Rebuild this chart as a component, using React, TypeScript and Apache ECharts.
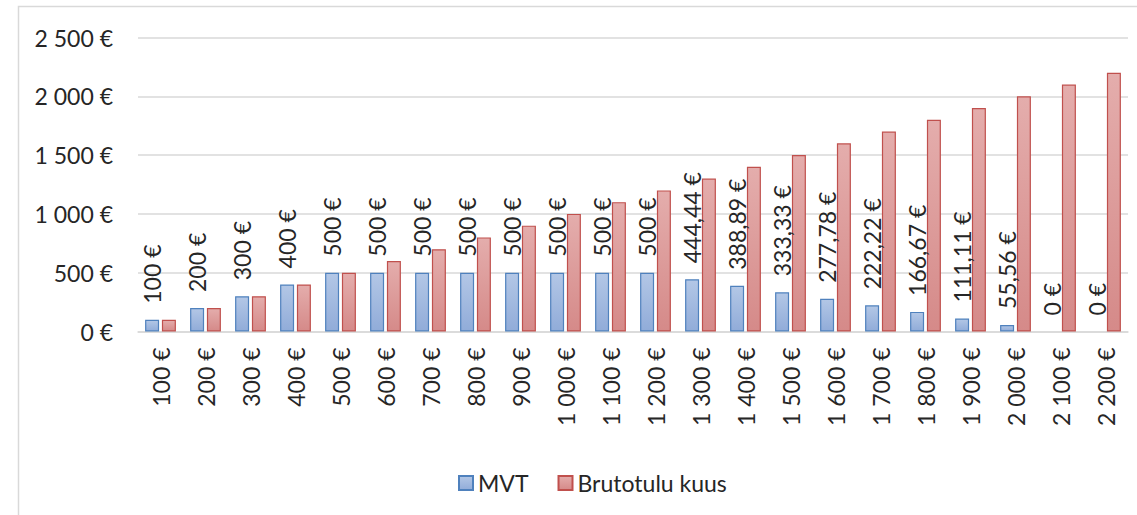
import React, { useEffect, useRef } from "react";
import * as echarts from "echarts";

const grossIncome = [100, 200, 300, 400, 500, 600, 700, 800, 900, 1000, 1100, 1200, 1300, 1400, 1500, 1600, 1700, 1800, 1900, 2000, 2100, 2200];
const mvt = [100, 200, 300, 400, 500, 500, 500, 500, 500, 500, 500, 500, 444.44, 388.89, 333.33, 277.78, 222.22, 166.67, 111.11, 55.56, 0, 0];
const seriesNames = ["MVT", "Brutotulu kuus"];
const yMin = 0;
const yMax = 2500;
const yStep = 500;

function fmtEuro(v: number): string {
  const [intPart, dec] = Math.abs(v).toFixed(2).split(".");
  const intStr = intPart.replace(/\B(?=(\d{3})+(?!\d))/g, " ");
  return (v < 0 ? "-" : "") + (dec === "00" ? intStr : intStr + "," + dec) + " €";
}

const categories = grossIncome.map(fmtEuro);

const FONT = "Lato";
const FS = 23;
const TXT = "#262626";

export default function App() {
  const ref = useRef<HTMLDivElement>(null);
  useEffect(() => {
    if (!ref.current) return;
    const chart = echarts.init(ref.current, undefined, { renderer: "svg" });
    const blueFill = new echarts.graphic.LinearGradient(0, 0, 0, 1, [
      { offset: 0, color: "#b3c7e6" },
      { offset: 1, color: "#91acd9" },
    ]);
    const redFill = new echarts.graphic.LinearGradient(0, 0, 0, 1, [
      { offset: 0, color: "#e4adac" },
      { offset: 1, color: "#d58a89" },
    ]);
    const mvtData = mvt.map((v) =>
      v === 0 ? { value: v, itemStyle: { borderWidth: 0, opacity: 0 } } : v
    );
    chart.setOption({
      animation: false,
      textStyle: { fontFamily: FONT },
      graphic: [
        {
          type: "rect",
          shape: { x: 18.5, y: 6.5, width: 1140, height: 540 },
          style: { fill: "none", stroke: "#d9d9d9", lineWidth: 1.5 },
          silent: true,
        },
      ],
      grid: { left: 138, right: 9, top: 37.5, bottom: 183.5, containLabel: false },
      legend: {
        left: 453,
        top: 465,
        icon: "rect",
        itemWidth: 14,
        itemHeight: 14,
        itemGap: 29,
        textStyle: { fontFamily: FONT, fontSize: FS, color: TXT, lineHeight: 26 },
        data: seriesNames,
      },
      xAxis: {
        type: "category",
        data: categories,
        axisLine: { lineStyle: { color: "#d9d9d9", width: 1.5 } },
        axisTick: { show: false },
        axisLabel: {
          rotate: 90,
          margin: 16,
          interval: 0,
          fontFamily: FONT,
          fontSize: FS,
          color: TXT,
        },
      },
      yAxis: {
        type: "value",
        min: yMin,
        max: yMax,
        interval: yStep,
        axisLine: { show: false },
        axisTick: { show: false },
        splitLine: { lineStyle: { color: "#d9d9d9", width: 1.5 } },
        axisLabel: {
          margin: 25,
          fontFamily: FONT,
          fontSize: FS,
          color: TXT,
          formatter: (v: number) => fmtEuro(v),
        },
      },
      series: [
        {
          name: seriesNames[0],
          type: "bar",
          data: mvtData,
          barWidth: 14,
          barGap: "20%",
          itemStyle: { color: blueFill, borderColor: "#4f81bd", borderWidth: 1.2 },
          label: {
            show: true,
            position: "top",
            distance: 16,
            rotate: 90,
            align: "left",
            verticalAlign: "middle",
            fontFamily: FONT,
            fontSize: FS,
            color: TXT,
            opacity: 1,
            formatter: (p: any) => fmtEuro(p.value),
          },
        },
        {
          name: seriesNames[1],
          type: "bar",
          data: grossIncome,
          barWidth: 14,
          itemStyle: { color: redFill, borderColor: "#c0504d", borderWidth: 1.2 },
        },
      ],
    });
    return () => chart.dispose();
  }, []);
  return (
    <div
      ref={ref}
      style={{ position: "absolute", left: 0, top: 0, width: 1137, height: 515, background: "#fff" }}
    />
  );
}
